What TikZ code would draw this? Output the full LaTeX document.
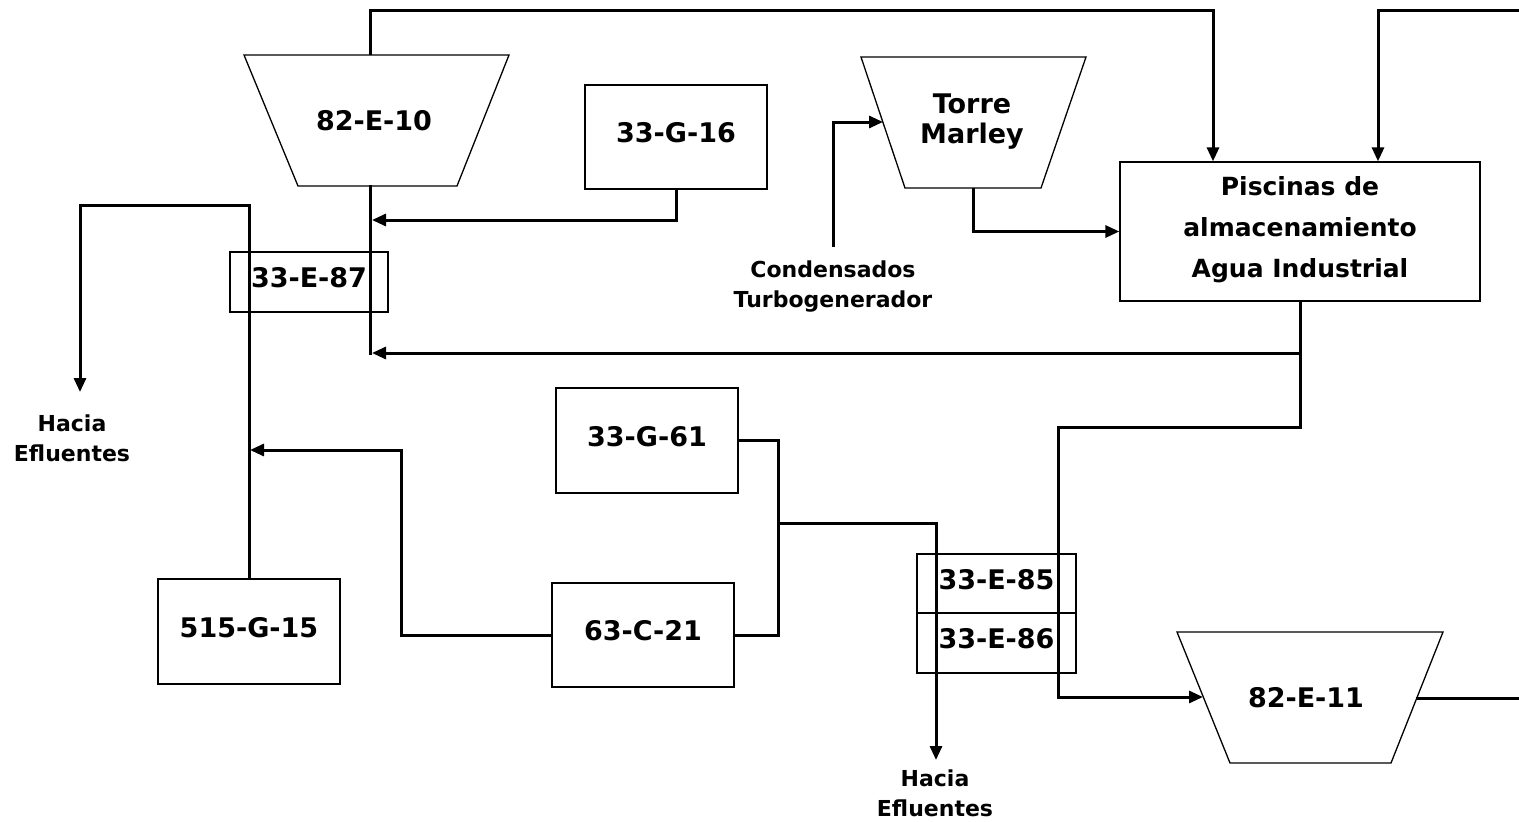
\documentclass[tikz,border=0pt]{standalone}
\usepackage{fontspec}
\setmainfont{DejaVu Sans}
\usetikzlibrary{arrows.meta}

\begin{document}
\begin{tikzpicture}[x=1pt,y=-1pt,
  caja/.style={draw,line width=1.3pt,inner sep=0pt,align=center,text depth=9pt,font=\bfseries\fontsize{27}{30}\selectfont},
  equipo/.style={draw,line width=1.3pt,line join=miter},
  rotulo/.style={align=center,inner sep=0pt,font=\bfseries\fontsize{27}{30}\selectfont},
  nota/.style={align=center,inner sep=0pt,font=\bfseries\fontsize{22}{30}\selectfont},
  linea/.style={line width=3pt,line cap=rect},
  flecha/.style={line width=3pt,-{Triangle[length=14pt,width=12pt]}}]
\useasboundingbox (0,0) rectangle (1519,822);
% the three trapezoid units: two heat exchangers and the cooling tower
\draw[equipo] (244,55) -- (509,55) -- (457,186) -- (298,186) -- cycle;
\node[rotulo] (e10) at (374,121) {82-E-10};
\coordinate (e10-arriba) at (370,55);
\coordinate (e10-abajo) at (370,186);
\draw[equipo] (861,57) -- (1086,57) -- (1041,188) -- (905,188) -- cycle;
\node[rotulo] (torre) at (972,122) {Torre\\Marley};
\coordinate (torre-izq) at (883,122);
\coordinate (torre-abajo) at (973,188);
\draw[equipo] (1177,632) -- (1443,632) -- (1391,763) -- (1230,763) -- cycle;
\node[rotulo] (e11) at (1306,698) {82-E-11};
\coordinate (e11-izq) at (1203,697);
\coordinate (e11-der) at (1417,698);
% boxes
\node[caja,minimum width=182pt,minimum height=104pt] (g16) at (676,137) {33-G-16};
\node[caja,minimum width=360pt,minimum height=139pt,font=\bfseries\fontsize{25}{41}\selectfont] (pisc) at (1300,231.5) {Piscinas de\\almacenamiento\\Agua Industrial};
\node[caja,minimum width=158pt,minimum height=60pt] (e87) at (309,282) {33-E-87};
\node[caja,minimum width=182pt,minimum height=105pt] (g61) at (647,440.5) {33-G-61};
\node[caja,minimum width=182pt,minimum height=105pt] (g15) at (249,631.5) {515-G-15};
\node[caja,minimum width=182pt,minimum height=104pt] (c21) at (643,635) {63-C-21};
\node[caja,minimum width=159pt,minimum height=59pt] (e85) at (996.5,583.5) {33-E-85};
\node[caja,minimum width=159pt,minimum height=60pt] (e86) at (996.5,643) {33-E-86};
% free labels
\node[nota] (cond) at (833,287) {Condensados\\Turbogenerador};
\node[nota] (hacia1) at (72,438) {Hacia\\Efluentes};
\node[nota] (hacia2) at (935,793) {Hacia\\Efluentes};
% bends and junctions
\coordinate (codo-sup) at (370,10);
\coordinate (borde-sup) at (1519,10);
\coordinate (borde-inf) at (1519,698);
\coordinate (j16) at (372,220);
\coordinate (j-ret) at (372,353);
\coordinate (c1) at (1300,427);
\coordinate (c2) at (1058,697);
\coordinate (cond-sal) at (833,247);
\coordinate (c3) at (80,205);
\coordinate (ef1) at (80,392);
\coordinate (c4) at (401,450);
\coordinate (j15) at (250,450);
\coordinate (c5) at (778,523);
\coordinate (ef2) at (936,760);
% water lines
\draw[flecha] (e10-arriba) -- (codo-sup) -| ([xshift=-87pt]pisc.north);
\draw[flecha] (borde-sup) -| ([xshift=78pt]pisc.north);
\draw[linea] (e11-der) -- (borde-inf);
\draw[linea] (e10-abajo) -- (370,353);
\draw[flecha] (g16.south) |- (j16);
\draw[flecha] (pisc.south) |- (j-ret);
\draw[flecha] (pisc.south) -- (c1) -| (c2) -- (e11-izq);
\draw[flecha] (torre-abajo) |- (pisc.west);
\draw[flecha] (cond-sal) |- (torre-izq);
\draw[flecha] (g15.north) |- (c3) -- (ef1);
\draw[flecha] (c21.west) -| (c4) -- (j15);
\draw[linea] (g61.east) -| (c5) |- (c21.east);
\draw[flecha] (c5) -| (ef2);
\end{tikzpicture}
\end{document}
